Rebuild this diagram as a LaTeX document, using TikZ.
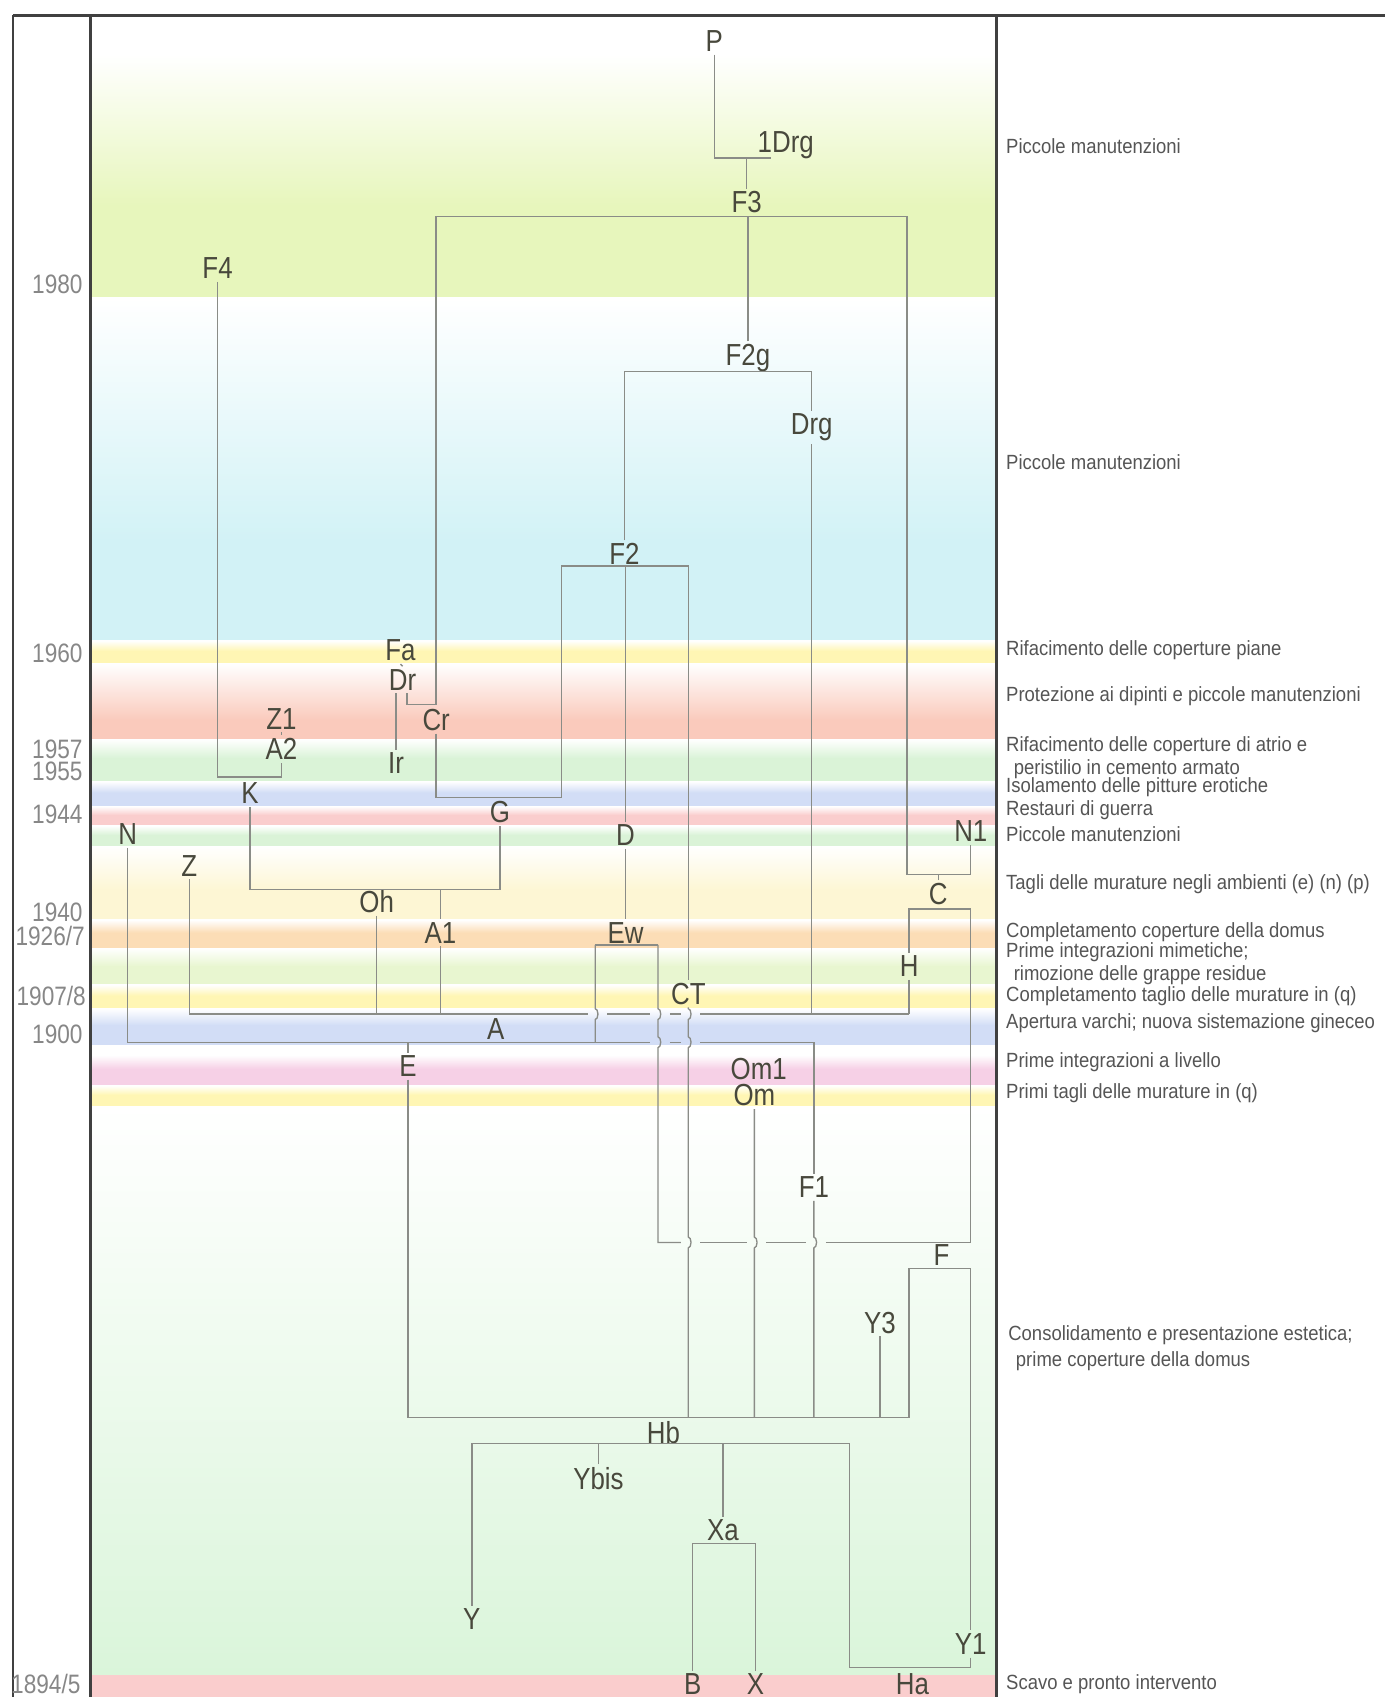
\documentclass[tikz,border=0pt]{standalone}
\usepackage{fontspec}
\usetikzlibrary{calc}
\newfontfamily\labfont{Liberation Sans}[FakeStretch=0.85]
\newfontfamily\notefont{Liberation Sans}[FakeStretch=0.9]
\definecolor{bLime}{RGB}{231,246,188}
\definecolor{bCyan}{RGB}{210,242,246}
\definecolor{bYel}{RGB}{255,246,180}
\definecolor{bSalm}{RGB}{250,202,188}
\definecolor{bGrn}{RGB}{218,243,215}
\definecolor{bBlue}{RGB}{210,221,246}
\definecolor{bRose}{RGB}{250,205,205}
\definecolor{bPaleY}{RGB}{253,246,212}
\definecolor{bOrng}{RGB}{252,221,182}
\definecolor{bPaleG}{RGB}{232,246,208}
\definecolor{bMag}{RGB}{246,208,230}
\definecolor{bLowG}{RGB}{218,245,218}
\definecolor{lineC}{RGB}{138,140,135}
\definecolor{labC}{RGB}{72,72,60}
\definecolor{yrC}{RGB}{135,135,135}
\definecolor{txtC}{RGB}{85,85,85}
\tikzset{ln/.style={draw=lineC, line width=0.35pt},
  frm/.style={draw=black!75, line width=0.8pt},
  lab/.style={font={\labfont\fontsize{8}{9}\selectfont}, text=labC, inner sep=0.6pt},
  yr/.style={font={\labfont\fontsize{7}{8}\selectfont}, text=yrC, anchor=east, inner sep=0pt},
  phase/.style={font={\notefont\fontsize{5.4}{4.9}\selectfont}, text=txtC, anchor=west, align=left, inner sep=0pt}}

\begin{document}
\begin{tikzpicture}[x=0.1mm, y=-0.1mm]
  \useasboundingbox (0,0) rectangle (1280,1568);
  \fill[white] (0,0) rectangle (1280,1568);
  % background bands
  \shade[top color=white, bottom color=bLime] (84,50) rectangle (921,190);
  \fill[bLime] (84,190) rectangle (921,275);
  \shade[top color=white, bottom color=bCyan] (84,275) rectangle (921,500);
  \fill[bCyan] (84,500) rectangle (921,592);
  \foreach \ya/\yb/\col/\fr in {592/613/bYel/0.45, 613/683/bSalm/0.75, 683/722/bGrn/0.45,
      722/745/bBlue/0.45, 745/763/bRose/0.45, 763/782/bGrn/0.45, 782/850/bPaleY/0.6,
      850/876/bOrng/0.45, 876/910/bPaleG/0.5, 910/932/bYel/0.45, 932/966/bBlue/0.45,
      975/1003/bMag/0.45, 1003/1022/bYel/0.45}{
    \pgfmathsetmacro\ym{\ya+\fr*(\yb-\ya)}
    \shade[top color=white, bottom color=\col] (84,\ya) rectangle (921,\ym);
    \fill[\col] (84,\ym) rectangle (921,\yb);}
  \shade[top color=white, bottom color=bLowG] (84,1022) rectangle (921,1548);
  \fill[bRose] (84,1548) rectangle (921,1568);
  % frame
  \draw[frm] (12,14) -- (1280,14);
  \draw[frm, line width=0.6pt] (12,14) -- (12,1568);
  \draw[frm] (84,14) -- (84,1568);
  \draw[frm] (921,14) -- (921,1568);

  % units
  \node[lab] (P)    at (660,38)   {P};
  \node[lab] (Drg1) at (726,134)  {1Drg};
  \node[lab] (F3)   at (690,187)  {F3};
  \node[lab] (F4)   at (201,248)  {F4};
  \node[lab] (F2g)  at (691,331)  {F2g};
  \node[lab] (Drg)  at (750,395)  {Drg};
  \node[lab] (F2)   at (577,512)  {F2};
  \node[lab] (Fa)   at (370,601)  {Fa};
  \node[lab] (Dr)   at (372,628)  {Dr};
  \node[lab] (Cr)   at (403,665)  {Cr};
  \node[lab] (Z1)   at (260,664)  {Z1};
  \node[lab] (A2)   at (260,692)  {A2};
  \node[lab] (Ir)   at (366,705)  {Ir};
  \node[lab] (K)    at (231,733)  {K};
  \node[lab] (G)    at (462,750)  {G};
  \node[lab] (N)    at (118,771)  {N};
  \node[lab] (D)    at (578,772)  {D};
  \node[lab] (N1)   at (897,768)  {N1};
  \node[lab] (Z)    at (175,800)  {Z};
  \node[lab] (C)    at (867,826)  {C};
  \node[lab] (Oh)   at (348,833)  {Oh};
  \node[lab] (A1)   at (407,862)  {A1};
  \node[lab] (Ew)   at (578,862)  {Ew};
  \node[lab] (H)    at (840,893)  {H};
  \node[lab] (CT)   at (636,918)  {CT};
  \node[lab] (A)    at (458,951)  {A};
  \node[lab] (E)    at (377,985)  {E};
  \node[lab] (Om1)  at (701,988)  {Om1};
  \node[lab] (Om)   at (697,1012) {Om};
  \node[lab] (F1)   at (752,1097) {F1};
  \node[lab] (F)    at (870,1160) {F};
  \node[lab] (Y3)   at (813,1222) {Y3};
  \node[lab] (Hb)   at (613,1324) {Hb};
  \node[lab] (Ybis) at (553,1366) {Ybis};
  \node[lab] (Xa)   at (668,1414) {Xa};
  \node[lab] (Y)    at (436,1496) {Y};
  \node[lab] (Y1)   at (897,1519) {Y1};
  \node[lab] (B)    at (640,1556) {B};
  \node[lab] (X)    at (698,1556) {X};
  \node[lab] (Ha)   at (843,1556) {Ha};

  % bar ends
  \coordinate (j1)   at (712,146);
  \coordinate (f3l)  at (403,200);
  \coordinate (f3r)  at (838,200);
  \coordinate (f2gl) at (577,343);
  \coordinate (f2gr) at (750,343);
  \coordinate (f2l)  at (519,523);
  \coordinate (f2r)  at (636,523);
  \coordinate (crc)  at (403,651);
  \coordinate (gl)   at (403,737);
  \coordinate (gr)   at (519,737);
  \coordinate (kr)   at (260,718);
  \coordinate (ohr)  at (462,822);
  \coordinate (n1r)  at (897,808);
  \coordinate (cl)   at (840,840);
  \coordinate (cr)   at (897,840);
  \coordinate (ewl)  at (550,873);
  \coordinate (ewr)  at (608,873);
  \coordinate (aur)  at (840,937);
  \coordinate (alr)  at (752,963);
  \coordinate (f1l)  at (608,1148);
  \coordinate (f1r)  at (897,1148);
  \coordinate (fl)   at (840,1172);
  \coordinate (fr)   at (897,1172);
  \coordinate (hur)  at (840,1310);
  \coordinate (hll)  at (436,1334);
  \coordinate (hlr)  at (785,1334);
  \coordinate (xal)  at (640,1426);
  \coordinate (xar)  at (698,1426);
  \coordinate (y1l)  at (785,1541);

  % upper sequence
  \draw[ln] (P.south) |- (j1);
  \draw[ln] (F3.north) -- (F3.north |- j1);
  \draw[ln] (f3l) -- (f3r);
  \draw[ln] (F2g.north) -- (F2g.north |- f3l);
  \draw[ln] (f2gl) -- (f2gr) -- (Drg.north);
  \draw[ln] (F2.north) -- (F2.north |- f2gl);
  \draw[ln] (gr) -- (f2l) -- (f2r) -- (CT.north);
  \draw[ln] (D.north) -- (D.north |- f2l);
  \draw[ln] (f3l) -- (crc) -| ($(Dr.south)+(4,0)$);
  \draw[ln] (Fa.south) -- (Dr.north);
  \draw[ln] (Ir.north |- Dr.south) -- (Ir.north);
  \draw[ln] (Cr.south) -- (gl) -- (gr);
  \draw[ln] (Z1.south) -- (A2.north);
  \draw[ln] (F4.south) |- (kr) -- (A2.south);
  \draw[ln] (K.south) |- (ohr) -- (G.south);
  \draw[ln] (A1.north |- ohr) -- (A1.north);
  \draw[ln] (f3r) |- (n1r) -- (N1.south);
  \draw[ln] (C.north) -- (C.north |- n1r);
  \draw[ln] (C.south) -- (C.south |- cl);
  \draw[ln] (H.north) -- (cl) -- (cr) -- (f1r);
  \draw[ln] (D.south) -- (D.south |- Ew.north);
  \draw[ln] (ewl) -- (ewr);
  % bars of A
  \draw[ln] (Z.south) |- (543,937);
  \draw[ln] (561,937) -- (601,937) (619,937) -- (629,937) (647,937) -- (aur);
  \draw[ln] (N.south) |- (601,963);
  \draw[ln] (619,963) -- (629,963) (647,963) -- (alr) -- (F1.north);
  \draw[ln] (Oh.south) -- (Oh.south |- aur);
  \draw[ln] (A1.south) -- (A1.south |- aur);
  \draw[ln] (Drg.south) -- (Drg.south |- aur);
  \draw[ln] (H.south) -- (H.south |- aur);
  \draw[ln] (E.north |- alr) -- (E.north);
  % crossings
  \draw[ln] (ewl) -- (550,932) arc[start angle=90, end angle=-90, x radius=0.25mm, y radius=0.5mm] -- (550,963);
  \draw[ln] (ewr) -- (608,932) arc[start angle=90, end angle=-90, x radius=0.25mm, y radius=0.5mm]
    -- (608,958) arc[start angle=90, end angle=-90, x radius=0.25mm, y radius=0.5mm] -- (f1l) -- (629,1148);
  \draw[ln] (CT.south) -- (636,932) arc[start angle=90, end angle=-90, x radius=0.25mm, y radius=0.5mm]
    -- (636,958) arc[start angle=90, end angle=-90, x radius=0.25mm, y radius=0.5mm]
    -- (636,1143) arc[start angle=90, end angle=-90, x radius=0.25mm, y radius=0.5mm] -- (636,1310);
  \draw[ln] (Om.south) -- (697,1143) arc[start angle=90, end angle=-90, x radius=0.25mm, y radius=0.5mm] -- (697,1310);
  \draw[ln] (F1.south) -- (752,1143) arc[start angle=90, end angle=-90, x radius=0.25mm, y radius=0.5mm] -- (752,1310);
  \draw[ln] (647,1148) -- (690,1148) (708,1148) -- (745,1148) (763,1148) -- (f1r);
  % lower sequence
  \draw[ln] (E.south) |- (hur);
  \draw[ln] (Y3.south) -- (Y3.south |- hur);
  \draw[ln] (hur) -- (fl) -- (fr) -- (Y1.north);
  \draw[ln] (Y1.south) |- (y1l) -- (hlr);
  \draw[ln] (Y.north) -- (hll) -- (hlr);
  \draw[ln] (Ybis.north) -- (Ybis.north |- hll);
  \draw[ln] (Xa.north) -- (Xa.north |- hll);
  \draw[ln] (B.north) -- (xal) -- (xar) -- (X.north);

  % years
  \node[yr] (y1980) at (77,263)  {1980};
  \node[yr] (y1960) at (77,604)  {1960};
  \node[yr] (y1957) at (77,692)  {1957};
  \node[yr] (y1955) at (77,713)  {1955};
  \node[yr] (y1944) at (77,752)  {1944};
  \node[yr] (y1940) at (77,843)  {1940};
  \node[yr] (y1926) at (79,865)  {1926/7};
  \node[yr] (y1907) at (80,920)  {1907/8};
  \node[yr] (y1900) at (77,956)  {1900};
  \node[yr] (y1894) at (75,1556) {1894/5};

  % phases
  \node[phase] (t1)  at (929,135)  {Piccole manutenzioni};
  \node[phase] (t2)  at (929,427)  {Piccole manutenzioni};
  \node[phase] (t3)  at (929,601)  {Rifacimento delle coperture piane};
  \node[phase] (t4)  at (929,643)  {Protezione ai dipinti e piccole manutenzioni};
  \node[phase] (t5)  at (929,700)  {Rifacimento delle coperture di atrio e\\\hspace*{2pt}peristilio in cemento armato};
  \node[phase] (t6)  at (929,727)  {Isolamento delle pitture erotiche};
  \node[phase] (t7)  at (929,749)  {Restauri di guerra};
  \node[phase] (t8)  at (929,771)  {Piccole manutenzioni};
  \node[phase] (t9)  at (929,817)  {Tagli delle murature negli ambienti (e) (n) (p)};
  \node[phase] (t10) at (929,861)  {Completamento coperture della domus};
  \node[phase] (t11) at (929,890)  {Prime integrazioni mimetiche;\\\hspace*{2pt}rimozione delle grappe residue};
  \node[phase] (t12) at (929,920)  {Completamento taglio delle murature in (q)};
  \node[phase] (t13) at (929,945)  {Apertura varchi; nuova sistemazione gineceo};
  \node[phase] (t14) at (929,981)  {Prime integrazioni a livello};
  \node[phase] (t15) at (929,1010) {Primi tagli delle murature in (q)};
  \node[phase, font={\notefont\fontsize{5.4}{6.8}\selectfont}] (t16) at (931,1246) {Consolidamento e presentazione estetica;\\\hspace*{2pt}prime coperture della domus};
  \node[phase] (t17) at (929,1556) {Scavo e pronto intervento};
\end{tikzpicture}
\end{document}
